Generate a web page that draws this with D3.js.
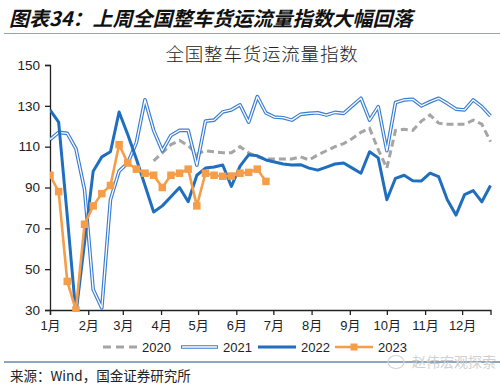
<!DOCTYPE html>
<html>
<head>
<meta charset="utf-8">
<script src="https://cdn.jsdelivr.net/npm/d3@7"></script>
<style>
    body { margin: 0; background: #fff; }
    svg { display: block; }
    .cjk { font-family: "Noto Sans CJK SC", sans-serif; }
</style>
</head>
<body>
<div class="canvas"></div>
<script>
// weekly index, one value per week, day offsets for the month ticks
const monthLabels = ["1月", "2月", "3月", "4月", "5月", "6月", "7月", "8月", "9月", "10月", "11月", "12月"];
const monthStartDays = [0, 31, 59, 90, 120, 151, 181, 212, 243, 273, 304, 334];
const yTicks = [30, 50, 70, 90, 110, 130, 150];
const seriesNames = ["2020", "2021", "2022", "2023"];

const values2020 = [null, null, null, null, null, null, null, null, null, null, null, null,
    103, 107, 111, 113, 110.5, 106.5, 108, 107.5, 107, 107, 110, 107,
    105, 104, 104, 104, 104, 105, 103.5, 106, 108, 110, 111.5, 114,
    117, 119, 108.5, 99.5, 118, 118.5, 118, 122.5, 125.5, 121.5, 121, 121,
    121, 123, 121, 112.5];
const values2021 = [113.5, 117, 116.5, 109, 89, 40, 31, 84, 98, 102, 112, 133,
    118, 108, 115.5, 118, 118, 101, 122.5, 123, 127, 128, 130.5, 122,
    134.5, 126.5, 124.5, 124.2, 123, 125.8, 126.3, 126.6, 125.5, 126.8, 126.3, 130,
    133.7, 123, 129.6, 108, 131.6, 132.9, 133.2, 130, 132, 133.7, 131.2, 128.4,
    128, 132.9, 129.6, 125];
const values2022 = [128, 122, 76, 28, 63, 98, 105, 107.5, 127, 116, 104, 91,
    78, 81, 85.5, 90, 83, 96, 99.5, 100, 101, 90.5, 100.5, 106,
    105.5, 103.5, 102.5, 101.5, 101, 101.2, 99.5, 98.5, 100, 101.5, 102, 99.5,
    97, 107.5, 104.5, 84, 94.5, 96, 93.3, 93.2, 97, 95.3, 84, 76.5,
    86.5, 88.5, 83, 91];
const values2023 = [96, 88, 44, 30, 72, 81, 87, 91, 111, 102, 99, 97,
    96, 90, 96, 97, 99, 81, 97, 96, 95.5, 95.6, 97, 97.4, 99, 93];

const colors = {"2020": "#a5a5a5", "2021": "#3b7dcf", "2022": "#1f6fbe", "2023": "#f59d48"};

class FreightChart {
    constructor(svg) {
        this.svg = svg;
        this.plot = {left: 50, right: 490.5, top: 65, bottom: 310};
        this.x = d3.scaleLinear().domain([0, 357]).range([this.plot.left, this.plot.right]);
        this.y = d3.scaleLinear().domain([30, 150]).range([this.plot.bottom, this.plot.top]);
        this.line = d3.line()
            .defined(d => d != null)
            .x((d, i) => this.x(i * 7))
            .y(d => this.y(d));

        this.addHeader();
        this.addAxes();
        this.addSeries();
        this.addLegend();
        this.addFooter();
    }

    addHeader() {
        this.svg.append("text")
            .attr("class", "cjk")
            .attr("x", 9).attr("y", 26)
            .style("font-size", "20px")
            .style("font-weight", "bold")
            .style("font-style", "italic")
            .attr("fill", "#111")
            .text("图表34：上周全国整车货运流量指数大幅回落");

        this.svg.append("line")
            .attr("x1", 4).attr("x2", 500)
            .attr("y1", 33.5).attr("y2", 33.5)
            .attr("stroke", "#8fa6bd").attr("stroke-width", 1.2);

        this.svg.append("text")
            .attr("class", "cjk")
            .attr("x", 262).attr("y", 61)
            .attr("text-anchor", "middle")
            .style("font-size", "18.5px")
            .style("letter-spacing", "0.8px")
            .style("font-weight", "300")
            .attr("fill", "#222")
            .text("全国整车货运流量指数");
    }

    addAxes() {
        const yAxis = d3.axisLeft(this.y).tickValues(yTicks).tickSize(5).tickPadding(5);
        const yGroup = this.svg.append("g")
            .attr("transform", `translate(${this.plot.left}, 0)`)
            .call(yAxis);
        yGroup.select(".domain").attr("stroke", "#222").attr("stroke-width", 1.3);
        yGroup.selectAll(".tick line").attr("stroke", "#222").attr("stroke-width", 1.3);
        yGroup.selectAll("text")
            .style("font-family", "'Liberation Sans', Arial, sans-serif")
            .style("font-size", "13.5px")
            .attr("fill", "#222");

        const xAxis = d3.axisBottom(this.x)
            .tickValues(monthStartDays)
            .tickFormat((d, i) => monthLabels[i])
            .tickSizeOuter(0).tickSize(5).tickPadding(6);
        const xGroup = this.svg.append("g")
            .attr("transform", `translate(0, ${this.plot.bottom})`)
            .call(xAxis);
        xGroup.select(".domain").attr("stroke", "#222").attr("stroke-width", 1.3);
        xGroup.selectAll(".tick line").attr("stroke", "#222").attr("stroke-width", 1.3);
        xGroup.selectAll("text")
            .style("font-family", "'Liberation Sans', 'Noto Sans CJK SC', sans-serif")
            .style("font-size", "13px")
            .attr("fill", "#222");
    }

    addSeries() {
        this.svg.append("clipPath").attr("id", "plotClip")
            .append("rect")
            .attr("x", this.plot.left).attr("y", this.plot.top - 5)
            .attr("width", this.plot.right - this.plot.left + 5)
            .attr("height", this.plot.bottom - this.plot.top + 7);
        const g = this.svg.append("g").attr("clip-path", "url(#plotClip)");

        g.append("path").datum(values2020)
            .attr("d", this.line)
            .attr("fill", "none")
            .attr("stroke", colors["2020"]).attr("stroke-width", 3)
            .attr("stroke-dasharray", "7,4");

        // 2021 is drawn as a double line: wide blue with a thin white core
        g.append("path").datum(values2021)
            .attr("d", this.line)
            .attr("fill", "none")
            .attr("stroke", colors["2021"]).attr("stroke-width", 3.6)
            .attr("stroke-linejoin", "round");
        g.append("path").datum(values2021)
            .attr("d", this.line)
            .attr("fill", "none")
            .attr("stroke", "#fff").attr("stroke-width", 1.3)
            .attr("stroke-linejoin", "round");

        g.append("path").datum(values2022)
            .attr("d", this.line)
            .attr("fill", "none")
            .attr("stroke", colors["2022"]).attr("stroke-width", 3)
            .attr("stroke-linejoin", "round");

        g.append("path").datum(values2023)
            .attr("d", this.line)
            .attr("fill", "none")
            .attr("stroke", colors["2023"]).attr("stroke-width", 2.6);

        const size = 7.5;
        g.selectAll("rect.marker")
            .data(values2023)
            .enter()
            .append("rect")
            .attr("class", "marker")
            .attr("x", (d, i) => this.x(i * 7) - size / 2)
            .attr("y", d => this.y(d) - size / 2)
            .attr("width", size).attr("height", size)
            .attr("fill", colors["2023"]);
    }

    addLegend() {
        const items = [
            {name: "2020", x: 103, len: 34},
            {name: "2021", x: 181, len: 37},
            {name: "2022", x: 258, len: 38},
            {name: "2023", x: 335, len: 38}
        ];
        const cy = 347;
        const legend = this.svg.append("g");
        items.forEach(item => {
            const x2 = item.x + item.len;
            if (item.name === "2020") {
                legend.append("line")
                    .attr("x1", item.x).attr("x2", x2).attr("y1", cy).attr("y2", cy)
                    .attr("stroke", colors["2020"]).attr("stroke-width", 3)
                    .attr("stroke-dasharray", "8,5");
            } else if (item.name === "2021") {
                legend.append("line")
                    .attr("x1", item.x).attr("x2", x2).attr("y1", cy).attr("y2", cy)
                    .attr("stroke", colors["2021"]).attr("stroke-width", 3.6);
                legend.append("line")
                    .attr("x1", item.x + 1).attr("x2", x2 - 1).attr("y1", cy).attr("y2", cy)
                    .attr("stroke", "#fff").attr("stroke-width", 1.3);
            } else {
                legend.append("line")
                    .attr("x1", item.x).attr("x2", x2).attr("y1", cy).attr("y2", cy)
                    .attr("stroke", colors[item.name]).attr("stroke-width", item.name === "2022" ? 3 : 2.6);
                if (item.name === "2023") {
                    legend.append("rect")
                        .attr("x", (item.x + x2) / 2 - 3.5).attr("y", cy - 3.5)
                        .attr("width", 7).attr("height", 7)
                        .attr("fill", colors["2023"]);
                }
            }
            legend.append("text")
                .attr("x", x2 + 5).attr("y", cy)
                .attr("dy", "0.36em")
                .style("font-family", "'Liberation Sans', Arial, sans-serif")
                .style("font-size", "13px")
                .attr("fill", "#222")
                .text(item.name);
        });
    }

    addFooter() {
        this.svg.append("line")
            .attr("x1", 4).attr("x2", 500)
            .attr("y1", 362).attr("y2", 362)
            .attr("stroke", "#1f4e79").attr("stroke-width", 1.2);

        this.svg.append("text")
            .attr("class", "cjk")
            .attr("x", 10).attr("y", 381)
            .style("font-size", "13.5px")
            .attr("fill", "#222")
            .text("来源：Wind，国金证券研究所");

        // watermark
        this.svg.append("text")
            .attr("class", "cjk")
            .attr("x", 412).attr("y", 367)
            .style("font-size", "14px")
            .attr("fill", "#d0d0d0")
            .text("赵伟宏观探索");
        this.svg.append("ellipse")
            .attr("cx", 396).attr("cy", 362).attr("rx", 8).attr("ry", 6.5)
            .attr("fill", "none").attr("stroke", "#d4d4d4").attr("stroke-width", 1.2);
    }
}

const svg = d3.select(".canvas").append("svg")
    .attr("width", 500)
    .attr("height", 389);

new FreightChart(svg);
</script>
</body>
</html>
